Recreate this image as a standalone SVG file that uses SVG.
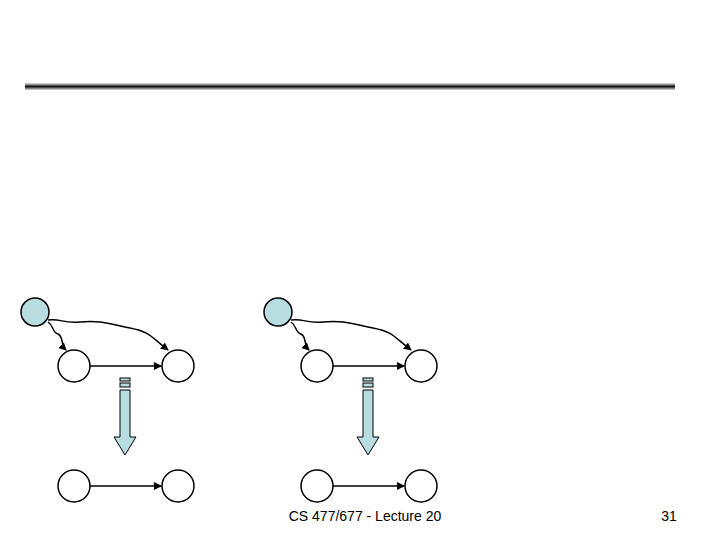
<svg xmlns="http://www.w3.org/2000/svg" width="720" height="540" viewBox="0 0 720 540">
<style>
.n{fill:#fff;stroke:#000;stroke-width:1.5}
.s{fill:#b7dde1;stroke:#000;stroke-width:1.5}
.c{fill:none;stroke:#000;stroke-width:1.5}
.ba{fill:#b7dde1;stroke:#000;stroke-width:1}
</style>
<defs>
<linearGradient id="bar" x1="0" y1="0" x2="0" y2="1">
<stop offset="0" stop-color="#eee"/><stop offset="0.5" stop-color="#111"/><stop offset="1" stop-color="#ddd"/>
</linearGradient>
<marker id="ah" markerWidth="8" markerHeight="8" refX="7" refY="4" orient="auto" markerUnits="userSpaceOnUse">
<path d="M0,0 L8,4 L0,8 z" fill="#000"/>
</marker>
</defs>
<rect width="720" height="540" fill="#fff"/>
<rect x="25" y="83" width="650" height="7" fill="url(#bar)"/>
<g id="connectors">
<path class="c" d="M48,322 C54,326 52,332 58,334 C64,337 60,344 66,350" marker-end="url(#ah)"/>
<path class="c" d="M48,320 C60,318 64,324 80,322 C100,320 110,324 130,328 C150,332 150,336 168,350" marker-end="url(#ah)"/>
<line class="c" x1="90" y1="366" x2="161" y2="366" marker-end="url(#ah)"/>
<line class="c" x1="90" y1="486" x2="161" y2="486" marker-end="url(#ah)"/>
<g transform="translate(243,0)">
<path class="c" d="M48,322 C54,326 52,332 58,334 C64,337 60,344 66,350" marker-end="url(#ah)"/>
<path class="c" d="M48,320 C60,318 64,324 80,322 C100,320 110,324 130,328 C150,332 150,336 168,350" marker-end="url(#ah)"/>
<line class="c" x1="90" y1="366" x2="161" y2="366" marker-end="url(#ah)"/>
<line class="c" x1="90" y1="486" x2="161" y2="486" marker-end="url(#ah)"/>
</g>
</g>
<g id="L-src"><circle class="s" cx="35" cy="312" r="14"/></g>
<g id="L-a"><circle class="n" cx="74" cy="366" r="16"/></g>
<g id="L-b"><circle class="n" cx="178" cy="366" r="16"/></g>
<g id="L-c"><circle class="n" cx="74" cy="486" r="16"/></g>
<g id="L-d"><circle class="n" cx="178" cy="486" r="16"/></g>
<g id="L-arrow" class="ba">
<rect x="120" y="378" width="10" height="3"/><rect x="120" y="383" width="10" height="4"/>
<path d="M120,390 H130 V437 H136 L125,455 L114,437 H120 Z"/>
</g>
<g id="R-src"><circle class="s" cx="278" cy="312" r="14"/></g>
<g id="R-a"><circle class="n" cx="317" cy="366" r="16"/></g>
<g id="R-b"><circle class="n" cx="421" cy="366" r="16"/></g>
<g id="R-c"><circle class="n" cx="317" cy="486" r="16"/></g>
<g id="R-d"><circle class="n" cx="421" cy="486" r="16"/></g>
<g id="R-arrow" class="ba">
<rect x="363" y="378" width="10" height="3"/><rect x="363" y="383" width="10" height="4"/>
<path d="M363,390 H373 V437 H379 L368,455 L357,437 H363 Z"/>
</g>
<g font-family="Liberation Sans, Arial, sans-serif" font-size="14" fill="#000">
<text x="365" y="521" text-anchor="middle">CS 477/677 - Lecture 20</text>
<text x="669" y="521" text-anchor="middle">31</text>
</g>
</svg>
